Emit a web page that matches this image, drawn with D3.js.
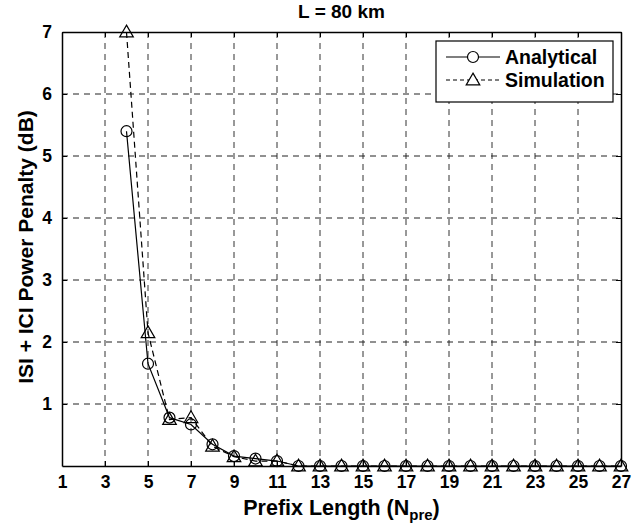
<!DOCTYPE html>
<html>
<head>
<meta charset="utf-8">
<script src="https://cdn.jsdelivr.net/npm/d3@7"></script>
<style>
  body { margin: 0; background: #fff; }
  svg { font-family: "Liberation Sans", Arial, sans-serif; font-weight: bold; }
</style>
</head>
<body>
<svg id="chart"></svg>
<script>
// data
const prefixLen = [4, 5, 6, 7, 8, 9, 10, 11, 12, 13, 14, 15, 16, 17, 18, 19, 20, 21, 22, 23, 24, 25, 26, 27];
const analytical = [5.40, 1.65, 0.78, 0.67, 0.35, 0.16, 0.12, 0.08, 0, 0, 0, 0, 0, 0, 0, 0, 0, 0, 0, 0, 0, 0, 0, 0];
const simulation = [7.00, 2.15, 0.75, 0.78, 0.32, 0.15, 0.08, 0.08, 0, 0, 0, 0, 0, 0, 0, 0, 0, 0, 0, 0, 0, 0, 0, 0];
const xTicks = [1, 3, 5, 7, 9, 11, 13, 15, 17, 19, 21, 23, 25, 27];
const yTicks = [1, 2, 3, 4, 5, 6, 7];

const size = { width: 638, height: 525 };
const margin = { top: 32, right: 17, bottom: 59, left: 62 };
const width = size.width - margin.left - margin.right;
const height = size.height - margin.top - margin.bottom;

const svg = d3.select("#chart")
    .attr("width", size.width)
    .attr("height", size.height);

const g = svg.append("g")
    .attr("transform", "translate(" + margin.left + "," + margin.top + ")");

const x = d3.scaleLinear().domain([1, 27]).range([0, width]);
const y = d3.scaleLinear().domain([0, 7]).range([height, 0]);

// grid
g.append("g")
    .selectAll("line")
    .data(xTicks.slice(1, -1))
    .enter().append("line")
    .attr("x1", d => x(d)).attr("x2", d => x(d))
    .attr("y1", 0).attr("y2", height)
    .attr("stroke", "#333").attr("stroke-width", 1)
    .attr("stroke-dasharray", "6,5");

g.append("g")
    .selectAll("line")
    .data(yTicks.slice(0, -1))
    .enter().append("line")
    .attr("x1", 0).attr("x2", width)
    .attr("y1", d => y(d)).attr("y2", d => y(d))
    .attr("stroke", "#222").attr("stroke-width", 1)
    .attr("stroke-dasharray", "6,5");

// axes
const xAxis = g.append("g")
    .attr("transform", "translate(0," + height + ")")
    .call(d3.axisBottom(x).tickValues(xTicks).tickSize(-5).tickPadding(10).tickSizeOuter(0));
const yAxis = g.append("g")
    .call(d3.axisLeft(y).tickValues(yTicks).tickFormat(d3.format("d"))
        .tickSize(-5).tickPadding(10).tickSizeOuter(0));
g.append("g")
    .call(d3.axisTop(x).tickValues(xTicks).tickSize(-5).tickFormat("").tickSizeOuter(0));
g.append("g")
    .attr("transform", "translate(" + width + ",0)")
    .call(d3.axisRight(y).tickValues(yTicks).tickSize(-5).tickFormat("").tickSizeOuter(0));

g.selectAll(".domain").attr("stroke", "#000").attr("stroke-width", 1.5);
g.selectAll(".tick line").attr("stroke", "#000");
[xAxis, yAxis].forEach(a => a.selectAll("text")
    .attr("font-size", 17.5).attr("font-weight", "bold")
    .attr("font-family", "'Liberation Sans', Arial, sans-serif").attr("fill", "#000"));

// series
const line = d3.line()
    .x(d => x(d[0]))
    .y(d => y(d[1]));

const anaPts = prefixLen.map((p, i) => [p, analytical[i]]);
const simPts = prefixLen.map((p, i) => [p, simulation[i]]);

const tri = d3.symbol().type(d3.symbolTriangle).size(80);

g.append("path").datum(simPts)
    .attr("d", line).attr("fill", "none")
    .attr("stroke", "#000").attr("stroke-width", 1.2)
    .attr("stroke-dasharray", "6,4");
g.append("path").datum(anaPts)
    .attr("d", line).attr("fill", "none")
    .attr("stroke", "#000").attr("stroke-width", 1.2);

g.append("g").selectAll("path")
    .data(simPts).enter().append("path")
    .attr("d", tri)
    .attr("transform", d => "translate(" + x(d[0]) + "," + (y(d[1]) + 1) + ")")
    .attr("fill", "none").attr("stroke", "#000").attr("stroke-width", 1.2);
g.append("g").selectAll("circle")
    .data(anaPts).enter().append("circle")
    .attr("cx", d => x(d[0])).attr("cy", d => y(d[1]))
    .attr("r", 5.5)
    .attr("fill", "none").attr("stroke", "#000").attr("stroke-width", 1.2);

// legend
const legend = g.append("g").attr("transform", "translate(374,9)");
legend.append("rect")
    .attr("width", 177).attr("height", 61)
    .attr("fill", "#fff").attr("stroke", "#000").attr("stroke-width", 1.2);
const items = [
    { name: "Analytical", dash: null, marker: "circle" },
    { name: "Simulation", dash: "4,3", marker: "triangle" }
];
items.forEach((it, i) => {
    const ly = 16 + i * 23;
    legend.append("line")
        .attr("x1", 10).attr("x2", 64).attr("y1", ly).attr("y2", ly)
        .attr("stroke", "#000").attr("stroke-width", 1.2)
        .attr("stroke-dasharray", it.dash);
    if (it.marker === "circle") {
        legend.append("circle").attr("cx", 37).attr("cy", ly).attr("r", 5.5)
            .attr("fill", "#fff").attr("stroke", "#000").attr("stroke-width", 1.2);
    } else {
        legend.append("path").attr("d", tri)
            .attr("transform", "translate(37," + (ly + 1) + ")")
            .attr("fill", "#fff").attr("stroke", "#000").attr("stroke-width", 1.2);
    }
    legend.append("text")
        .attr("x", 69).attr("y", ly + 7)
        .attr("font-size", 19.5).text(it.name);
});

// title and axis labels
svg.append("text")
    .attr("x", margin.left + width / 2).attr("y", 18)
    .attr("text-anchor", "middle").attr("font-size", 19)
    .text("L = 80 km");

const xl = svg.append("text")
    .attr("x", margin.left + width / 2).attr("y", 515)
    .attr("text-anchor", "middle").attr("font-size", 21.5);
xl.append("tspan").text("Prefix Length (N");
xl.append("tspan").attr("font-size", 15).attr("dy", 5).text("pre");
xl.append("tspan").attr("dy", -5).text(")");

svg.append("text")
    .attr("transform", "translate(33,247) rotate(-90)")
    .attr("text-anchor", "middle").attr("font-size", 21)
    .text("ISI + ICI Power Penalty (dB)");
</script>
</body>
</html>
